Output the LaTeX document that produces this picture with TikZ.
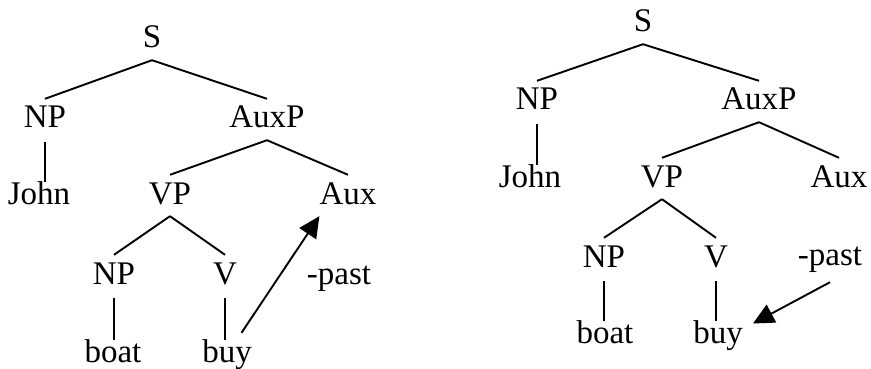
\documentclass[tikz,border=0pt]{standalone}
\usepackage{fontspec}
\setmainfont{Liberation Serif}
\usetikzlibrary{arrows.meta}

\begin{document}
\begin{tikzpicture}[x=1pt,y=-1pt]
\tikzset{lab/.style={anchor=base,inner xsep=0pt,inner ysep=5pt,text height=24pt,text depth=7pt,font=\fontsize{33}{36}\selectfont},
         branch/.style={line width=1.9pt},
         stem/.style={line width=1.9pt,shorten <=2pt,shorten >=-7pt},
         move/.style={line width=1.9pt,-{Triangle[length=21pt,width=20pt]}}};
   \useasboundingbox (0,0) rectangle (871,369);

   % first tree: V moves up to Aux
   \node[lab] at (152,48) (S1) {S};
   \node[lab] at (45,128) (NPa1) {NP};
   \node[lab] at (267,128) (AuxP1) {AuxP};
   \node[lab] at (39,204) (John1) {John};
   \node[lab] at (170,204) (VP1) {VP};
   \node[lab] at (348,204) (Aux1) {Aux};
   \node[lab] at (114,284) (NPb1) {NP};
   \node[lab] at (225,284) (V1) {V};
   \node[lab] at (339,284) (past1) {-past};
   \node[lab] at (113,362) (boat1) {boat};
   \node[lab] at (227,362) (buy1) {buy};

   \draw[branch] (S1.south) -- (NPa1.north);
   \draw[branch] (S1.south) -- (AuxP1.north);
   \draw[stem] (NPa1.south) -- (NPa1.south |- John1.north);
   \draw[branch] (AuxP1.south) -- (VP1.north);
   \draw[branch] (AuxP1.south) -- (Aux1.north);
   \draw[branch] (VP1.south) -- (NPb1.north);
   \draw[branch] (VP1.south) -- (V1.north);
   \draw[stem] (NPb1.south) -- (NPb1.south |- boat1.north);
   \draw[stem] (V1.south) -- (V1.south |- buy1.north);
   \draw[move] (buy1.55) -- (Aux1.south west);

   % second tree: -past lowers onto V
   \node[lab] at (643,32) (S2) {S};
   \node[lab] at (537,110) (NPa2) {NP};
   \node[lab] at (759,110) (AuxP2) {AuxP};
   \node[lab] at (530,187) (John2) {John};
   \node[lab] at (662,187) (VP2) {VP};
   \node[lab] at (839,187) (Aux2) {Aux};
   \node[lab] at (604,267) (NPb2) {NP};
   \node[lab] at (716,267) (V2) {V};
   \node[lab] at (830,265) (past2) {-past};
   \node[lab] at (605,343) (boat2) {boat};
   \node[lab] at (718,343) (buy2) {buy};

   \draw[branch] (S2.south) -- (NPa2.north);
   \draw[branch] (S2.south) -- (AuxP2.north);
   \draw[stem] (NPa2.south) -- (NPa2.south |- John2.north);
   \draw[branch] (AuxP2.south) -- (VP2.north);
   \draw[branch] (AuxP2.south) -- (Aux2.north);
   \draw[branch] (VP2.south) -- (NPb2.north);
   \draw[branch] (VP2.south) -- (V2.north);
   \draw[stem] (NPb2.south) -- (NPb2.south |- boat2.north);
   \draw[stem] (V2.south) -- (V2.south |- buy2.north);
   \draw[move] ([yshift=-5pt]past2.south) -- ([xshift=10pt,yshift=11pt]buy2.east);

\end{tikzpicture}
\end{document}
